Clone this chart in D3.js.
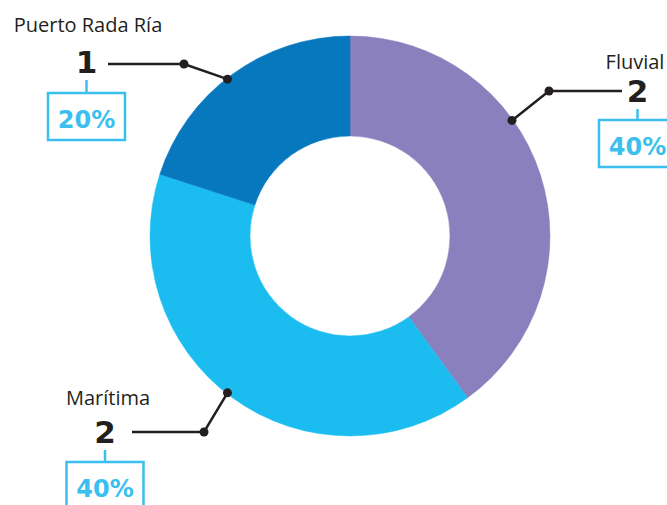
<!DOCTYPE html>
<html><head><meta charset="utf-8">
<script src="https://cdn.jsdelivr.net/npm/d3@7"></script>
<style>
html,body{margin:0;padding:0;background:#fff;overflow:hidden}
</style></head>
<body><svg id="c" width="667" height="505"></svg>
<script>
// ---- data ----
const categories = ["Fluvial", "Marítima", "Puerto Rada Ría"];
const values = [2, 2, 1];

// ---- styles / layout ----
const colors = ["#8a80bd", "#1bbdf0", "#0878be"];
const accent = "#3bbfef";
const ink = "#231f20";
const cx = 350, cy = 236, rOuter = 200, rInner = 100;
// per-label callout layout (angle in degrees where leader touches the ring)
const layout = [
  {col: 637.5, labelX: 635, labelY: 69, numY: 102, lineY: 91, lineEnd: 622, elbowX: 549, angle: 54.5, boxY: 120},
  {col: 105, labelX: 108, labelY: 405, numY: 443, lineY: 432, lineEnd: 132, elbowX: 204, angle: 218, boxY: 462},
  {col: 86.5, labelX: 88, labelY: 32, numY: 73, lineY: 64, lineEnd: 108, elbowX: 184, angle: 322, boxY: 93}
];
const boxW = 77, boxH = 47;

const svg = d3.select("#c");
const total = d3.sum(values);
const pie = d3.pie().sort(null).startAngle(0).endAngle(2 * Math.PI);
const arcs = pie(values);
const arc = d3.arc().innerRadius(rInner).outerRadius(rOuter);

const g = svg.append("g").attr("transform", `translate(${cx},${cy})`);
g.selectAll("path").data(arcs).join("path")
  .attr("d", arc)
  .attr("fill", (d, i) => colors[i])
  .attr("stroke", (d, i) => colors[i])
  .attr("stroke-width", 0.5);

const fmt = d3.format(".0%");

categories.forEach((cat, i) => {
  const L = layout[i];
  const a = L.angle * Math.PI / 180;
  const px = cx + (rOuter - 1) * Math.sin(a);
  const py = cy - (rOuter - 1) * Math.cos(a);
  const cg = svg.append("g");
  cg.append("polyline")
    .attr("points", [[L.lineEnd, L.lineY], [L.elbowX, L.lineY], [px, py]].map(p => p.join(",")).join(" "))
    .attr("fill", "none").attr("stroke", ink).attr("stroke-width", 2.5);
  cg.append("circle").attr("cx", L.elbowX).attr("cy", L.lineY).attr("r", 4.5).attr("fill", ink);
  cg.append("circle").attr("cx", px).attr("cy", py).attr("r", 4.5).attr("fill", ink);

  cg.append("text").attr("x", L.labelX).attr("y", L.labelY)
    .attr("text-anchor", "middle")
    .attr("font-family", "'Open Sans', sans-serif").attr("font-size", 20)
    .attr("fill", ink).text(cat);

  cg.append("text").attr("x", L.col).attr("y", L.numY)
    .attr("text-anchor", "middle")
    .attr("font-family", "'DejaVu Sans', sans-serif").attr("font-weight", "bold").attr("font-size", 31)
    .attr("fill", ink).text(values[i]);

  cg.append("line").attr("x1", L.col).attr("x2", L.col).attr("y1", L.numY + 7).attr("y2", L.boxY)
    .attr("stroke", accent).attr("stroke-width", 2.5);
  cg.append("rect").attr("x", L.col - boxW / 2).attr("y", L.boxY).attr("width", boxW).attr("height", boxH)
    .attr("fill", "#fff").attr("stroke", accent).attr("stroke-width", 2.5);
  cg.append("text").attr("x", L.col).attr("y", L.boxY + 35)
    .attr("text-anchor", "middle")
    .attr("font-family", "'DejaVu Sans', sans-serif").attr("font-weight", "bold").attr("font-size", 24)
    .attr("fill", accent).text(fmt(values[i] / total));
});
</script>
</body></html>
